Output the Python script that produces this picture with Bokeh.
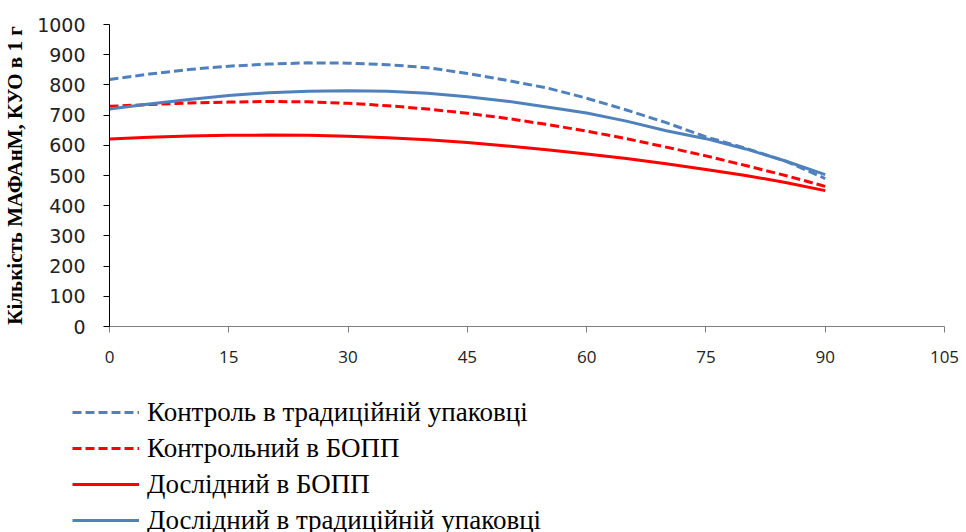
from bokeh.plotting import figure
from bokeh.models import Range1d, FixedTicker, Legend, LegendItem
from bokeh.core.properties import value
from bokeh.layouts import column
from bokeh.embed import file_html
from bokeh.resources import INLINE

days = [0, 5, 10, 15, 20, 25, 30, 35, 40, 45, 50, 55, 60, 65, 70, 75, 80, 85, 90]
control_trad = [818, 836, 851, 862, 869, 873, 872, 867, 857, 838, 815, 790, 756, 717, 675, 628, 590, 548, 490]
control_bopp = [729, 735, 740, 743, 745, 744, 739, 731, 720, 706, 689, 669, 647, 622, 594, 565, 533, 500, 464]
exp_bopp = [621, 627, 631, 633, 634, 633, 630, 625, 618, 609, 598, 585, 571, 556, 539, 520, 500, 477, 450]
exp_trad = [720, 737, 752, 765, 774, 779, 781, 779, 772, 761, 746, 727, 707, 680, 648, 622, 588, 548, 503]

labels = ["Контроль в традиційній упаковці", "Контрольний в БОПП",
          "Дослідний в БОПП", "Дослідний в традиційній упаковці"]
x_title = "τ, діб"
x_ticks = [0, 15, 30, 45, 60, 75, 90, 105]
y_ticks = [0, 100, 200, 300, 400, 500, 600, 700, 800, 900, 1000]

BLUE = "#4F81BD"
RED = "#FF0000"
series = [control_trad, control_bopp, exp_bopp, exp_trad]
colors = [BLUE, RED, RED, BLUE]
dashes = ["9 4", "9 4", "solid", "solid"]

p = figure(output_backend="svg", toolbar_location=None,
           frame_width=835, frame_height=302,
           min_border_left=109, min_border_right=20, min_border_top=24, min_border_bottom=50,
           x_range=Range1d(0, 105), y_range=Range1d(0, 1000))
p.outline_line_color = None
p.xgrid.visible = False
p.ygrid.visible = False
p.background_fill_color = "white"
p.border_fill_color = "white"

for s, c, d in zip(series, colors, dashes):
    p.line(days, s, line_color=c, line_width=3, line_dash=d)

xa = p.xaxis[0]
xa.ticker = FixedTicker(ticks=x_ticks)
xa.axis_line_color = "#7f7f7f"
xa.major_tick_line_color = "#7f7f7f"
xa.major_tick_out = 6
xa.major_tick_in = 0
xa.minor_tick_out = 0
xa.minor_tick_in = 0
xa.major_label_text_font = "Open Sans"
xa.major_label_text_font_size = "17px"
xa.major_label_text_color = "#222222"
xa.major_label_standoff = 18

ya = p.yaxis[0]
ya.ticker = FixedTicker(ticks=y_ticks)
ya.axis_line_color = "#000000"
ya.major_tick_line_color = "#000000"
ya.major_tick_out = 6
ya.major_tick_in = 0
ya.minor_tick_out = 0
ya.minor_tick_in = 0
ya.major_label_text_font = "DejaVu Sans"
ya.major_label_text_font_size = "19px"
ya.major_label_text_color = "#222222"
ya.major_label_standoff = 18
ya.axis_label = "Кількість МАФАнМ, КУО в 1 г"
ya.axis_label_text_font = "Liberation Serif"
ya.axis_label_text_font_style = "bold"
ya.axis_label_text_font_size = "21px"
ya.axis_label_text_color = "#000000"
ya.axis_label_standoff = 7

# lower panel: x-axis title and legend
p2 = figure(output_backend="svg", toolbar_location=None,
            frame_width=964, frame_height=162,
            min_border_left=0, min_border_right=0, min_border_top=0, min_border_bottom=0,
            x_axis_type=None, y_axis_type=None,
            x_range=Range1d(0, 1), y_range=Range1d(0, 1))
p2.outline_line_color = None
p2.xgrid.visible = False
p2.ygrid.visible = False
p2.border_fill_color = "white"
p2.background_fill_color = "white"

p2.text(x=[1], y=[1], text=[x_title],
        text_align=value("right"), text_baseline=value("top"),
        text_font=value("Open Sans"), text_font_style=value("bold"),
        text_font_size=value("17px"), text_color="#000000")

items = []
for lab, s, c, d in zip(labels, series, colors, dashes):
    r = p2.line(days, s, line_color=c, line_width=3, line_dash=d, visible=False)
    items.append(LegendItem(label=lab, renderers=[r]))

legend = Legend(items=items, location=(72, 0), orientation="vertical",
                padding=0, margin=0, spacing=0,
                glyph_width=67, glyph_height=36, label_height=36,
                label_standoff=8,
                label_text_font="Liberation Serif", label_text_font_size="27px",
                label_text_color="#000000",
                border_line_color=None, background_fill_alpha=0)
p2.add_layout(legend, "center")

layout = column(p, p2, spacing=0)
open("out.html", "w").write(file_html(layout, INLINE))
